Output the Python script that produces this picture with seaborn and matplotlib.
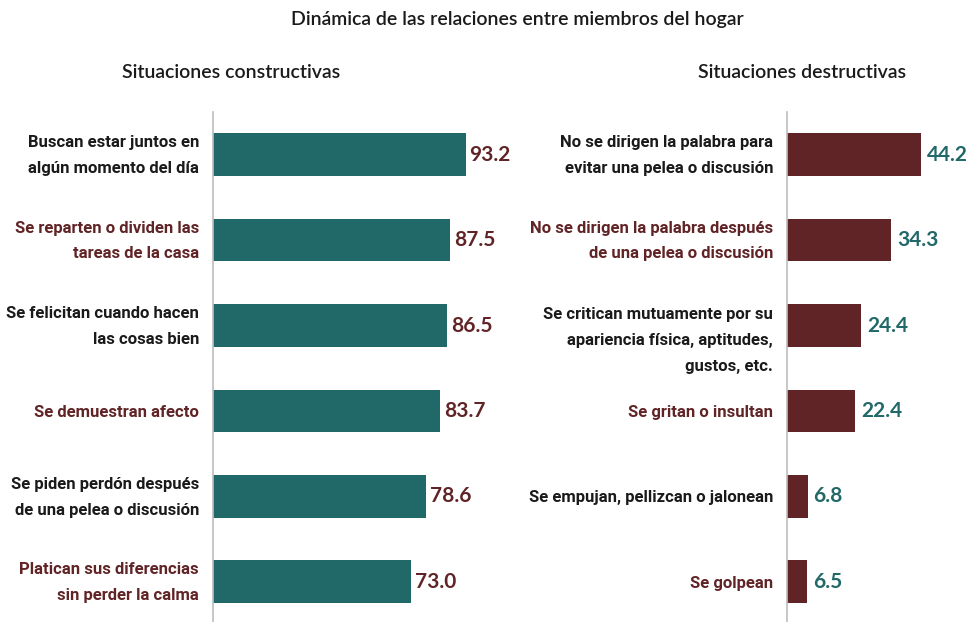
import matplotlib
matplotlib.use("Agg")
import matplotlib.pyplot as plt
import matplotlib.transforms as mtransforms
import seaborn as sns
import pandas as pd

constr_labels = ["Buscan estar juntos en\nalgún momento del día",
                 "Se reparten o dividen las\ntareas de la casa",
                 "Se felicitan cuando hacen\nlas cosas bien",
                 "Se demuestran afecto",
                 "Se piden perdón después\nde una pelea o discusión",
                 "Platican sus diferencias\nsin perder la calma"]
constr_values = [93.2, 87.5, 86.5, 83.7, 78.6, 73.0]

destr_labels = ["No se dirigen la palabra para\nevitar una pelea o discusión",
                "No se dirigen la palabra después\nde una pelea o discusión",
                "Se critican mutuamente por su\napariencia física, aptitudes,\ngustos, etc.",
                "Se gritan o insultan",
                "Se empujan, pellizcan o jalonean",
                "Se golpean"]
destr_values = [44.2, 34.3, 24.4, 22.4, 6.8, 6.5]

title = "Dinámica de las relaciones entre miembros del hogar"
sub_left = "Situaciones constructivas"
sub_right = "Situaciones destructivas"

TEAL = "#216968"
DRED = "#612426"
BLACK = "#1a1a1a"

sns.set_theme(style="white")
plt.rcParams['font.family'] = ['Roboto', 'DejaVu Sans']
HEAD_FONT = ['Lato', 'DejaVu Sans']

W, H = 969, 622
fig = plt.figure(figsize=(W / 100, H / 100), dpi=100)

def px_axes(x0, x1, y0, y1):
    return fig.add_axes([x0 / W, 1 - y1 / H, (x1 - x0) / W, (y1 - y0) / H])

axL = px_axes(213, 213 + 2.71 * 100, 112, 622)
axR = px_axes(787, 787 + 3.03 * 55, 112, 622)

def draw(ax, labels, values, bar_color, val_color, xmax, gap, special=None):
    df = pd.DataFrame({"label": labels, "value": values})
    sns.barplot(data=df, x="value", y="label", ax=ax, color=bar_color,
                width=0.5, orient="h", saturation=1, edgecolor="none")
    ax.set_xlim(0, xmax)
    ax.set_ylim(5.47, -0.5)
    ax.set_xlabel("")
    ax.set_ylabel("")
    ax.set_xticks([])
    for s in ["top", "right", "bottom"]:
        ax.spines[s].set_visible(False)
    ax.spines["left"].set_color("#BDBDBD")
    ax.spines["left"].set_linewidth(1.2)
    ax.tick_params(axis="y", length=0, pad=10)
    for i, t in enumerate(ax.get_yticklabels()):
        t.set_fontsize(12)
        t.set_fontweight("bold")
        t.set_linespacing(1.9)
        t.set_color(BLACK if i % 2 == 0 else DRED)
        t.set_horizontalalignment("right")
        t.set_multialignment("right")
        dy = 0
        if "\n" in labels[i]:
            dy = 6
        if special is not None and i == special:
            dy = -8
        if dy:
            t.set_transform(t.get_transform() + mtransforms.ScaledTranslation(0, dy / 100, fig.dpi_scale_trans))
    for i, v in enumerate(values):
        ax.annotate(f"{v:.1f}", xy=(v, i), xytext=(gap, 0), textcoords="offset pixels",
                    va="center", ha="left", fontsize=15, fontweight="bold",
                    color=val_color, family=HEAD_FONT)

draw(axL, constr_labels, constr_values, TEAL, DRED, 100, 4)
draw(axR, destr_labels, destr_values, DRED, TEAL, 55, 6, special=2)

fig.text(517 / W, 1 - 20 / H, title, ha="center", va="center", fontsize=14,
         color="#1a1a1a", family=HEAD_FONT, fontweight="semibold")
fig.text(231 / W, 1 - 72 / H, sub_left, ha="center", va="center", fontsize=14,
         color="#1a1a1a", family=HEAD_FONT, fontweight="semibold")
fig.text(802 / W, 1 - 72 / H, sub_right, ha="center", va="center", fontsize=14,
         color="#1a1a1a", family=HEAD_FONT, fontweight="semibold")

fig.savefig("out.png", dpi=100)
